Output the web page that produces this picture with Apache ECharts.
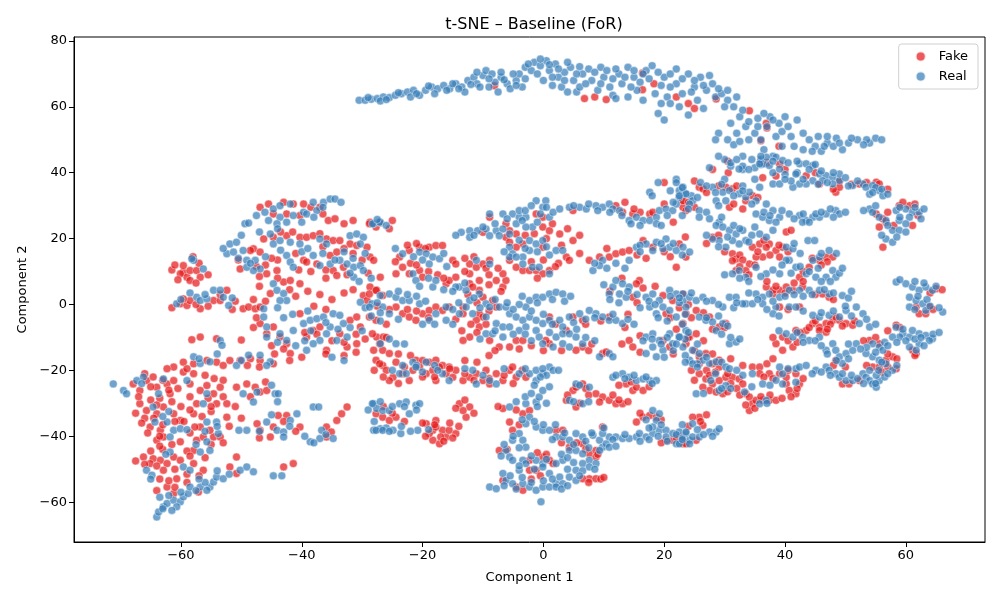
<!DOCTYPE html>
<html>
<head>
<meta charset="utf-8">
<script src="https://cdn.jsdelivr.net/npm/echarts@6/dist/echarts.min.js"></script>
<style>html,body{margin:0;padding:0;background:#fff;}#chart{width:1000px;height:600px;}</style>
</head>
<body>
<div id="chart"></div>
<script>
const tickValuesX = [-60, -40, -20, 0, 20, 40, 60];
const tickValuesY = [-60, -40, -20, 0, 20, 40, 60, 80];
const seriesNames = ['Fake', 'Real'];

const realArc = [
[-30.5,62],[-29.5,62],[-28.5,62.3],[-27.5,62.5],[-26.5,63],[-25.5,62.8],[-24.5,63.5],[-23.5,64],[-22.5,64.5],[-21.5,65],[-20.5,63.5],[-19.5,65],[-18.5,66],[-17.5,65.5],[-16.5,66.5],[-15.5,65.5],[-14.5,67],[-13.5,66],[-12.5,68],[-11.5,69],[-11,67],[-10,69.5],[-9.5,71],[-8.5,70],[-8,67.5],[-7,69],[-6,67],[-5.5,65.5],[-4.5,68],[-4,70],[-3,72],[-2,71],[-1.5,73.5],[-0.5,72.5],[0.5,74],[1,71],[2,73],[2.5,69],[3,66],[3.5,70.5],[4.5,72],[5,68],[5.5,64.5],[6.5,70],[7.5,71.5],[8,68],[9,65],[9.5,72],[10,69],[11,66],[11.5,63.5],[12.5,70],[13,67],[14,72],[15,69],[15.5,65],[16,67.5],[17,71],[18,72.5],[18.5,64],[19,58],[19.5,61],[20,69],[20.5,63],[21,70],[22,67],[22.5,60],[23,64],[24,70],[25,66],[25.5,62],[26,69],[27,65],[28,67],[28.5,63],[29.5,64],[30.5,62],[31,55],[31.5,60],[32,52],[32.5,57],[33.5,54],[34,50],[35,52],[35.5,56.5],[36,50],[37,54],[37.5,57],[38.5,51],[39,55],[39.5,48],[40,57],[36.5,47],[38,45],[41,51],[42,56],[43,47],[44,50],[45,48],[45.5,51],[46,46.5],[47,49],[48,48],[48.5,50.5],[49.5,47],[50.5,49],[52,50],[54,49],[55,50.5],[53.5,50],[31,42],[33,41],[35,38],[30,44],
[-27,61.8],[-22,63],[-18,64],[-13,64.5],[-9,66],[-7.5,64.5],[-3.5,66],[0,68],[1.5,66.5],[4,64.5],[6,66],[12,62.5],[14,63],[16.5,62],[20,56],[21,61],[24,57.5],[26.5,59.5],[29,52],[30.5,50],[31.5,48.5],[33,45],[34.5,44],[36,42.5],
[19,37],[22,38],[26,37],[30,38],[33,36],[27.5,41.5],[31,43],[33,42],[35,41.5],[36.5,42.7],[38,40],[40,39.5],[42,40]
];
const realArcExtra = [
[-29,62.8],[-26,62.2],[-24,64.3],[-21,64],[-19,66.3],[-16,65],[-15,67],[-14,65.5],[-12,66.8],[-11,70.5],[-10.5,66],[-9,68.5],[-7,70.5],[-6.5,68.2],[-5,70],[-4.5,66.5],[-3,68.5],[-2.5,73],[-1,70],[-0.5,74.5],[1,72.8],[1.5,69],[2.5,71.5],[3.5,68],[4,73.5],[5.5,70],[6,72.2],[7,67],[8.5,70.5],[9.5,67],[10.5,71],[11.5,68.5],[12,71.5],[13.5,69],[14.5,66],[15,71],[16.5,70],[17.5,68.5],[19,70.5],[19.5,66.5],[21,66],[22,71.5],[23,68.5],[24.5,64.5],[25,68],[26.5,66.5],[27.5,69.5],[29,65.5],[30,60],[30.5,65],[32,63],[33,59],[34,55.5],[35.5,54],[36.5,58],[38,56],[39.5,52.5],[40.5,54],[41.5,48],[43,52],[44.5,46.5],[46.5,48],[47,51],[49,49],[51,50.5],[53,48.5],[56,50],[32,44],[34,41],[36,44],[29,45],[28.5,50],[32.5,49.5]
];
const fakeArc = [
[-8.1,66.4],[6.8,62.5],[8.5,63],[10.4,62.2],[16.4,70.3],[16.4,65.2],[18.3,67],[22,63],[24,61],[25,59.5],[28.6,62.4],[34.1,58.8],[36.9,55],[37,53.6],[36,49.7],[39,48],[28,41],[30.6,40],[36.3,38.5],[38.5,39],[45.7,36.6],[49,37.4],[30.5,43.5],[20,37],[25,37.5]
];

const realLeftLow = [
[-71.2,-24.1],[-69.5,-26.1],[-69,-27.1],[-67.3,-23.1],[-66.2,-22],[-62.9,-22.6],[-63.7,-27.1],[-64.6,-31.1],[-64.3,-35.7],[-62.3,-35.7],[-61.2,-38.2],[-61.8,-40.2],[-60.1,-37.7],[-61.8,-44.8],[-65.7,-50.3],[-64.8,-51.8],[-64,-64.5],[-63.7,-63],[-62.9,-61.4],[-62.3,-60.4],[-61.2,-59.4],[-60.1,-59.9],[-59.6,-58.4],[-58.8,-57.4],[-60.7,-61.4],[-58.5,-55.4],[-59.6,-49.3],[-58.5,-50.3],[-56.8,-55.4],[-55.2,-55.4],[-54.6,-53.9],[-55.7,-56.4],[-54.1,-52.4],[-53,-52.9],[-59,-23.1],[-56.3,-30.1],[-55.7,-27.1],[-55.7,-35.7],[-54.1,-35.7],[-53.8,-39.2],[-55.7,-41.7],[-55.2,-44.3],[-56.8,-44.8],[-49.7,-27.1],[-47.4,-26.6],[-48,-29.6],[-44.4,-27.1],[-43.9,-27.1],[-49.1,-38.2],[-45.8,-35.7],[-44.1,-38.2],[-43,-38.7],[-41.9,-35.2],[-40.8,-33.2],[-43,-40.2],[-38.6,-41.7],[-37,-40.7],[-36.7,-38.2],[-34.8,-40.7],[-38.1,-31.1],[-37.2,-31.1],[-28.1,-30.1],[-27.6,-31.6],[-28.1,-38.2],[-27,-37.7],[-50.4,-38.2],[-44.7,-52],[-43.3,-52],[-50.2,-50.3],[-49.1,-49.3],[-48,-50.8],[-63,-62],[-61.5,-62.5]
];
const realLeftLowExtra = [
[-66.5,-24],[-62,-32.5],[-63,-34],[-59,-38],[-62.5,-45.5],[-65,-53],[-63.5,-58.5],[-62,-58],[-60,-57],[-57.5,-56.5],[-56,-54],[-57,-53],[-52,-51.5],[-54,-50.5],[-57.5,-42.5],[-54,-37],[-56,-38.5],[-47,-38.5],[-45,-33.5],[-42,-37],[-39.5,-40],[-36,-39.5],[-38,-42],[-45,-24.5],[-44,-29.5],[-29,-32],[-28,-35.5],[-26,-37.5]
];
const fakeLeftLow = [
[-67.9,-24.1],[-66.8,-26.1],[-65.7,-23.1],[-64.6,-22],[-64,-25.1],[-62.3,-24.1],[-61.2,-23.1],[-61.8,-27.1],[-66.8,-30.1],[-65.7,-32.2],[-64,-33.2],[-62.9,-31.1],[-61.2,-33.2],[-65.1,-37.2],[-63.4,-38.2],[-62.9,-40.2],[-64,-41.2],[-60.1,-35.2],[-60.1,-41.7],[-66.2,-46.3],[-64.6,-46.8],[-63.4,-47.3],[-62.3,-48.3],[-65.1,-48.3],[-62.9,-50.3],[-61.2,-46.3],[-62.3,-55.4],[-60.7,-52.9],[-61.2,-57.4],[-60.1,-47.3],[-57.9,-48.3],[-56.3,-50.3],[-57.1,-56.9],[-59.6,-20.5],[-57.9,-21],[-56.8,-26.1],[-55.7,-24.6],[-54.6,-27.1],[-54.1,-30.1],[-52.4,-30.1],[-57.4,-30.1],[-58.5,-24.1],[-53.5,-25.1],[-57.9,-33.2],[-56.8,-37.2],[-57.4,-41.2],[-57.9,-44.3],[-56.3,-40.2],[-54.6,-40.2],[-53.5,-40.2],[-52.4,-34.2],[-57.7,-37.2],[-55.2,-38.2],[-50.8,-25.1],[-49.1,-24.1],[-47.7,-25.1],[-46.9,-26.6],[-45.8,-26.1],[-50.8,-46.3],[-47.4,-36.2],[-44.7,-37.2],[-42.5,-33.7],[-43.9,-33.7],[-40.3,-37.2],[-45.2,-40.2],[-46.9,-38.2],[-35.9,-37.2],[-35.1,-38.7],[-34.2,-35.2],[-33.4,-33.2],[-32.5,-31.1],[-35.9,-40.2],[-43,-49.3],[-41.4,-48.3],[-51.9,-49.3],[-50.8,-51.3],[-63.5,-28.5],[-66,-34.5],[-63,-44],[-59,-44.5],[-55,-32.5],[-58.5,-28]
];
const fakeLeftLowExtra = [
[-66,-21],[-65,-25],[-63,-23],[-62,-26],[-60.5,-25.5],[-67,-28],[-65,-29],[-64,-30.5],[-61.5,-29.5],[-60,-31],[-67.5,-33],[-64.5,-34.5],[-63,-36.5],[-61,-35.5],[-66.5,-36],[-65.5,-39],[-63.5,-40],[-61.5,-42.5],[-63.5,-43],[-65,-44.5],[-67.5,-47.5],[-66,-48.5],[-64,-49],[-61,-50],[-63.5,-53],[-62,-53.5],[-64,-56.5],[-61,-55.5],[-59,-54],[-57,-52],[-59,-51.5],[-56,-21.5],[-54.5,-22.5],[-53,-23],[-55.5,-28.5],[-53,-28],[-55,-31],[-58.5,-32],[-56.5,-34],[-59.5,-35.5],[-58.5,-39],[-55,-42.5],[-53,-42],[-58.5,-46],[-56,-46.5],[-51,-31],[-52,-37],[-50,-34.5],[-47,-40.5],[-43,-35.5],[-41,-38.5],[-46,-23.5],[-48.5,-28]
];

const realLeftHigh = [
[-46.1,28],[-44.7,29],[-43.6,30],[-41.9,30.5],[-39.7,28],[-38.1,31],[-37.5,28.5],[-36.4,31],[-35.3,32],[-34.5,32],[-43.6,26.5],[-44.1,24.5],[-41.4,27],[-39.2,27.5],[-49.4,24.5],[-48.8,24.7],[-45.2,21.4],[-44.7,18.4],[-43.6,19.4],[-41.9,18.9],[-40.3,18.4],[-37,19.9],[-35.9,18.4],[-32,20.9],[-30.9,21.4],[-29.8,20.4],[-30.3,18.4],[-51.9,18.4],[-50.8,18.9],[-52.4,15.4],[-51.3,15.9],[-49.7,16.4],[-49.1,13.4],[-47.7,13.4],[-46.9,10.8],[-48,10.3],[-49.1,11.3],[-42.5,14.9],[-41.9,12.9],[-41.4,11.3],[-38.1,14.9],[-37,11.8],[-35.3,12.3],[-33.7,13.4],[-32.5,12.3],[-31.4,11.3],[-30.3,11.8],[-29.8,10.3],[-31.4,8.3],[-28.1,24.5],[-27,25],[-57.9,13.4],[-56.3,10.8],[-58.2,13.9],[-60.7,0.2],[-57.4,2.2],[-56.8,1.2],[-55.7,1.7],[-54.6,4.3],[-53.5,4.3],[-53,2.2],[-52.1,-0.3],[-46.3,-1.3],[-44.7,6.3],[-44.1,4.3],[-43,3.3],[-42.5,1.2],[-43.6,1.2],[-46.3,-3.8],[-45.8,-6.8],[-43.6,-8.9],[-41.4,-7.9],[-42.5,-10.9],[-45.8,-9.9],[-39.7,-5.8],[-38.6,-4.8],[-37.5,-4.3],[-36.4,-3.8],[-34.8,-2.8],[-33.7,-3.3],[-33.1,-5.8],[-35.3,-6.8],[-35.9,-8.9],[-37,-10.9],[-38.1,-11.9],[-39.2,-13.9],[-34.2,-10.9],[-32.5,-9.9],[-30.3,0.7],[-28.4,0.2],[-27,2.7],[-27,-11.9],[-53.5,-10.9],[-53.2,-12.4],[-57.9,-15.9],[-56.8,-17.9],[-55.2,-17.4],[-50.8,-18.5],[-48.8,-15.4],[-46.9,-15.4],[-45.2,-17.4],[-45.8,-18.5]
];
const realLeftHighExtra = [
[-47.5,27],[-45.5,25.5],[-42.5,25],[-40,25],[-38,26.5],[-36.5,29.5],[-33.5,31],[-44,23],[-47,22],[-50,21],[-53,17],[-50.5,14],[-48.5,12.5],[-46,14.5],[-43.5,16.5],[-40,16],[-39,17],[-36.5,15.5],[-34.5,13.5],[-33,16],[-31.5,14],[-29.5,15.5],[-32,9.5],[-30.5,7],[-28.5,8],[-60,1.5],[-58.5,3.5],[-56,3],[-51.5,2],[-44,-1],[-41.5,-3],[-39,-2],[-36,-5.5],[-34,-7.5],[-32,-7],[-30,-8],[-28.5,-3.5],[-29.5,-1],[-27,-5],[-38.5,-8],[-41,-12.5],[-39.5,-11],[-44,-11.5],[-43,-4],[-50,-17],[-57,-16.5],[-54,-15],[-35,-16],[-33,-17]
];
const fakeLeftHigh = [
[-41.4,30.5],[-39.7,30.5],[-37,29.5],[-35.6,25.5],[-42.5,27.5],[-40.3,27],[-46.9,29.5],[-44.7,27.5],[-46.3,19.9],[-44.7,20.4],[-42.5,20.9],[-40.3,20.4],[-39.2,20.4],[-38.1,20.9],[-35.9,19.9],[-34.8,19.4],[-33.7,19.4],[-32,18.4],[-30.9,17.9],[-48,16.9],[-50.2,10.8],[-48.5,16.4],[-46.9,15.9],[-45.8,9.3],[-44.1,10.3],[-39.7,13.4],[-39.2,12.9],[-37.5,12.3],[-35.3,14.9],[-34.2,15.9],[-34.8,10.3],[-34.2,8.8],[-33.1,11.3],[-29.2,17.4],[-28.7,14.4],[-28.1,13.4],[-27,8.3],[-28.7,25],[-59.6,9.8],[-59,8.3],[-58.5,10.3],[-57.4,10.3],[-56.8,8.3],[-58.5,7.3],[-60.1,9.3],[-59.6,11.8],[-60.1,0.2],[-59,-0.3],[-58.5,1.2],[-56.8,-1.3],[-54.6,1.2],[-53.5,1.2],[-52.4,4.3],[-59.6,1.7],[-49.7,-1.3],[-48.8,-0.8],[-47.7,-1.3],[-46.9,-0.8],[-45.2,3.3],[-43,6.8],[-41.9,7.3],[-40.3,6.3],[-46.9,-5.8],[-45.8,-8.9],[-44.7,-6.8],[-43.6,-9.9],[-42.5,-11.9],[-41.9,-14.9],[-40.3,-2.8],[-38.1,-7.9],[-37,-6.8],[-33.7,-8.9],[-32,-4.8],[-30.9,-3.8],[-30.3,-6.8],[-39.2,-9.9],[-35.9,-13.9],[-32.5,-12.9],[-30.9,-11.9],[-29.8,2.7],[-28.7,5.3],[-27.6,4.3],[-29.2,1.2],[-27.6,-9.9],[-26.5,-9.9],[-28.1,-13.9],[-58.2,-10.7],[-56.8,-9.9],[-54.1,-10.4],[-61.2,-19],[-59.6,-17.5],[-57.9,-18],[-55.7,-17],[-54.1,-17.5],[-51.9,-17],[-50.2,-17],[-48.5,-16.5],[-46.9,-17],[-44.7,-18],[-62.3,-19.5],[-36,-15],[-33,-15.5],[-31,-14.5],[-38,-0.5],[-36,-1.5],[-45,-12.5],[-50,-10.8],[-61.5,10.5],[-58,14.5],[-47,8.5],[-44,13.5],[-41,15.5]
];
const fakeLeftHighExtra = [
[-45.5,30.5],[-43,31],[-38.5,29.5],[-36.5,27.5],[-34.5,26],[-33,24.5],[-31.5,25.5],[-43.5,22],[-41.5,22],[-37,21.5],[-36.5,17.5],[-33,17],[-31.5,15.5],[-50.5,13.5],[-47.5,11.5],[-46,12],[-45,14],[-40.5,10.5],[-38.5,10],[-36,10.5],[-36,8],[-32.5,9],[-30,13.5],[-29,9.5],[-61,12],[-60.5,7.5],[-57.5,6.5],[-57,12.5],[-55.5,9],[-61.5,-1],[-57.5,0],[-55.5,-0.5],[-53.5,3],[-51,1],[-51.5,-1.5],[-48,1.5],[-46,1],[-47,5.5],[-44,8],[-42,4.5],[-41,2.5],[-39,4],[-37,3],[-35,1.5],[-33,3.5],[-31.5,4.5],[-39.5,-8.5],[-37.5,-9],[-35,-11],[-33,-11.5],[-31,-9],[-29.5,-10.5],[-43,-13.5],[-44.5,-15],[-47.5,-4],[-48,-7],[-59,-19.5],[-53,-18.5],[-49,-18.5],[-47,-19],[-42,-17],[-40,-16]
];

const realMid = [
[-28.3,24.5],[-27.1,25],[-13.6,21.9],[-12.2,22.4],[-10.9,22.4],[-9.5,22.9],[-7.8,22.4],[-6.7,22.9],[-5.6,21.4],[-12.2,20.4],[-8.9,20.9],[-7.3,20.9],[-8.9,27.5],[-6.7,27.5],[-5.1,27.5],[-4,26.5],[-2.9,26.5],[-1.8,23.5],[-2.3,19.4],[-1.2,18.4],[-0.1,19.4],[1,26.5],[1.6,28],[-0.1,29.5],[0.4,31.5],[-1.2,31.5],[-4,28.5],[-4.5,24.5],[-2.9,23.5],[-5.6,17.4],[-5.1,15.4],[-3.4,14.4],[-2.3,16.4],[2.1,16.4],[3.2,16.4],[2.7,29],[4.3,29.5],[6,29.5],[7.1,29],[8.7,30],[9.8,29.5],[10.9,30.5],[11.5,29],[12.6,28.5],[14.2,25.5],[15.4,26.5],[16.5,25.5],[17.6,25.5],[18.7,26.5],[19.2,28.5],[20.3,29],[21.4,28.5],[22.5,32.5],[23.6,33.5],[23.1,35.6],[22,30.5],[18.7,24.5],[17.6,34.1],[9.8,13.4],[9.3,11.8],[8.2,10.3],[14.2,13.4],[15.4,17.4],[17,18.4],[18.7,18.9],[20.3,19.9],[20.9,17.4],[22,16.4],[23.1,17.4],[24.2,15.9],[19.8,16.9],[18.1,16.4],[10.9,3.2],[11.5,5.3],[12,7.3],[13.1,6.3],[14.2,5.3],[12.6,3.2],[13.7,2.2],[17,2.2],[18.1,3.2],[19.2,1.2],[19.8,-0.8],[20.9,4.3],[22,3.2],[23.1,1.2],[23.6,-0.8],[18.7,-2.8],[20.9,-1.8],[22,-3.8],[17.6,-0.8],[17,-9.9],[18.1,-8.9],[19.2,-10.9],[18.1,-12.9],[19.8,-13.9],[21.4,-11.9],[22.5,-9.9],[20.9,-8.9],[23.1,-12.9],[17,-14.9],[18.7,-15.9],[-2.3,1.2],[-1.2,2.2],[-0.1,2.2],[1,3.2],[2.1,3.7],[3.2,3.2],[-2.9,-0.8],[-5.6,-2.8],[-4.5,-3.8],[-3.4,-4.8],[-2.3,-3.8],[-1.2,-4.8],[-0.1,-5.8],[1,-4.8],[2.7,-4.8],[4.3,-3.8],[6,-2.8],[7.6,-1.8],[8.7,-2.8],[9.8,-3.8],[10.9,-4.8],[12,-4.8],[13.1,-5.8],[3.2,-6.8],[-13.9,5.3],[-12.8,4.3],[-10.6,3.2],[-9.5,0.2],[-7.3,-0.8],[-6.2,-0.8],[-8.9,-0.8],[-12.2,1.2],[-12.8,-0.8],[-13.9,-2.8],[-23.3,15.4],[-20.5,15.9],[-19.4,15.4],[-18.3,14.4],[-17.2,13.9],[-18.9,12.3],[-21.6,9.3],[-21.1,7.3],[-18.3,5.3],[-17.8,7.3],[-14.5,5.3],[-11.1,13.4],[-8.9,12.3],[-5.6,14.4],[-4.5,14.4],[-3.4,12.3],[-1.8,11.3],[-0.7,11.3],[1,9.3],[-25.5,3.2],[-24.4,2.2],[-23.3,1.2],[-22.2,1.2],[-20.5,0.2],[-26.6,-0.8],[-25.5,-2.8],[-18.9,-4.8],[-17.8,-2.8],[-16.1,-0.8],[-16.1,-4.8],[-28.8,-0.8],[-24.4,-11.9],[-11.7,-2.8],[-9.5,-3.8],[-7.8,-5.8],[-6.7,-6.8],[-5.6,-6.8],[-4,-7.9],[-2.9,-6.8],[-1.2,-7.9],[-0.7,-9.9],[-9.5,-8.9],[-8.4,-8.9],[-6.7,-9.9],[2.1,-9.9],[3.2,-8.9],[4.3,-8.9],[5.4,-9.9],[3.2,-11.9],[1.6,-12.9],[4.3,-12.9],[6.5,-11.9],[-0.1,-11.9],[9.3,-15.9],[10.9,-14.9],[11.5,-15.9],[-23.3,-18.5],[-21.6,-17.5],[-19.4,-17.5]
];
const realMidExtra = [
[-27.5,25.8],[-26,24],[-14.5,21],[-11.5,21],[-10,23.5],[-8,24.5],[-6,26],[-3,28.5],[-2,30],[-0.5,27.5],[0.5,29.5],[-3.5,25.5],[-1,25],[-4,19.5],[-3,17],[-1,16],[0.5,17.5],[1,15],[-6.5,16],[5,30],[7.5,30.5],[9,28.5],[11,28],[13,27],[14.5,24.5],[16,24],[19.5,24],[20.5,27],[21.5,31],[23,27],[24.5,33],[21,34.5],[22,37],[18,33],[8.5,12.5],[10.5,11],[12,12.5],[13.5,11],[16,18],[16,16],[19.5,18.5],[21.5,18.5],[23,15],[10,6],[11,1.5],[12.5,0.5],[14,4],[15.5,3],[16,-1],[17.5,1],[18.5,0],[21,2.5],[22.5,0.5],[19,-4],[20.5,-5],[23.5,-3],[16.5,-11],[18,-10.5],[19.5,-12],[20.5,-10],[21.5,-14],[20,-16],[23.5,-10.5],[-4,0],[-3.5,2.5],[-1,0.5],[1.5,1.5],[3.5,1],[4.5,2.5],[-2,-2],[0,-3],[1.5,-6],[5,-5.5],[7,-4.5],[8.5,-4],[11.5,-3],[14,-4.5],[15,-6],[-15,4],[-13,6.5],[-11.5,2],[-10.5,-1],[-15,-1.5],[-14,0.5],[-8,1.5],[-6,0.5],[-5,-1.5],[-24.5,17],[-21.5,14.5],[-20,13.5],[-16.5,15.5],[-16,11.5],[-20.5,5.5],[-19,8],[-16.5,4.5],[-24,4],[-22.5,3],[-21,2.5],[-19.5,1],[-27.5,0.5],[-27,-2.5],[-24,-4.5],[-20,-6],[-18,-6],[-15,-6],[-25.5,-10.5],[-23,-12],[-10.5,-10.5],[-8,-8],[-5,-9],[-3,-9],[-2,-11],[1,-8.5],[5.5,-7.5],[7,-10],[8.5,-11],[-21,-18.5],[-18,-18.5]
];
const fakeMid = [
[-28.8,24.5],[-27.7,23.5],[-10,21.9],[-6.2,20.4],[-5.6,18.9],[-8.9,26.5],[-6.2,24.5],[-5.6,22.4],[-4.5,21.4],[-3.4,18.4],[-4.5,17.4],[-1.2,27.5],[-0.1,23.5],[1,22.4],[-0.1,17.4],[3.8,14.4],[4.3,13.4],[2.7,21.4],[4.9,19.4],[-0.1,26.5],[12,30],[13.1,28],[4.9,28.5],[14.8,27.5],[17.6,27.5],[18.1,28],[23.1,29.5],[23.1,31.5],[7.6,13.4],[9.3,14.4],[10.9,14.4],[12,15.4],[13.1,15.9],[14.2,16.4],[16.5,19.4],[18.1,17.4],[22.5,18.4],[23.6,14.4],[22,11.3],[14.8,2.2],[15.9,7.3],[15.4,6.3],[19.8,2.7],[21.4,1.2],[20.3,-2.8],[23.1,3.2],[19.8,-10.9],[20.9,-12.9],[23.1,-5.8],[24.2,-9.9],[1,-3.8],[4.9,-3.8],[6.5,-4.8],[3.8,-7.9],[10.9,-3.8],[-6.7,5.3],[-7.8,7.3],[-6.2,7.3],[-12.2,6.3],[-10.6,4.3],[-10,2.2],[-8.4,1.2],[-7.8,-0.8],[-10.6,-2.8],[-10,-3.8],[-13.3,-0.8],[-13.3,-2.8],[-23.8,14.4],[-22.2,16.4],[-20.5,17.4],[-18.9,17.4],[-17.8,17.9],[-16.7,17.9],[-23.3,11.3],[-24.4,9.3],[-22.2,9.3],[-20.5,10.3],[-20,8.3],[-16.1,6.3],[-15.6,7.3],[-15,13.4],[-14.5,12.3],[-12.2,12.3],[-11.1,11.3],[-10,12.3],[-8.9,13.4],[-14.5,8.3],[-12.2,9.3],[-10.6,7.3],[-11.7,5.3],[-5.6,13.4],[-4.5,11.3],[-3.4,10.3],[-2.3,10.3],[-1.2,10.3],[-0.1,9.3],[1,10.3],[-6.7,9.3],[-28.8,3.2],[-27.7,4.3],[-26.6,2.7],[-24.4,-0.8],[-23.3,-2.8],[-22.2,-3.8],[-21.1,-4.8],[-20,-2.8],[-18.9,-1.8],[-17.8,-0.8],[-16.7,-1.8],[-15.6,-0.8],[-28.8,-3.8],[-27.7,-4.8],[-28.3,-8.9],[-27.1,-11.9],[-26.6,-13.9],[-25.5,-14.9],[-11.1,-4.8],[-10.6,-6.8],[-8.9,-10.9],[-7.3,-12.9],[-5.6,-12.9],[-4.5,-10.9],[-3.4,-10.9],[-12.2,-9.9],[-13.3,-10.9],[1,-11.9],[0.4,-10.9],[6.5,-12.9],[5.4,-13.9],[9.8,-14.9],[10.4,-14.4],[14.2,-10.9],[14.8,-12.9],[-27.7,-16.9],[-26.6,-18.5],[-24.4,-17.5],[-21.1,-16.9],[-18.9,-17.5],[-17.8,-16.9],[-16.7,-18.5],[-15.6,-19]
];
const fakeMidExtra = [
[-27,24.8],[-25.5,23],[-25,25.5],[-22.5,18],[-21,18.5],[-19.5,17],[-24.5,13],[-22,12.5],[-21,12],[-19,10],[-17.5,9],[-13,14],[-11.5,14.5],[-9.5,11],[-7.5,11],[-13,10],[-16.5,8],[-9,9],[-7,4],[-9,6],[-12.5,3],[-11,0.5],[-9,-2],[-14.5,-4.5],[-12,-6],[-9.5,-6],[-2,13],[0,13.5],[2.5,12.5],[-1,8],[2,11.5],[-3,21],[-1.5,21.5],[0.5,20],[3,18],[6,15.5],[4,23],[1.5,24.5],[6,21],[10.5,17],[15.5,15],[17,14],[20,16],[21,14.5],[23.5,20.5],[16,28],[20,30.5],[21.5,25],[13.5,31],[15,29],[11,4],[13,8],[16.5,5],[15.5,0.5],[18.5,5.5],[21,-4],[22.5,-1],[24,0],[2,-6],[7,-6],[9.5,-5],[13.5,-7],[14,-3],[-25.5,-1.5],[-22.5,-1.5],[-21,-2],[-19,-4],[-27.5,-0.5],[-26,-6],[-26,-10],[-24,-15],[-22,-15.5],[-20,-17],[-13,-17],[-11,-17.5],[-9,-15.5],[-8,-14],[-4,-13.5],[-2,-12.5],[-13.5,-8],[-11,-8.5],[0,-14],[3,-14],[7.5,-14],[8,-12],[13,-12],[16,-9.5],[16,-14.5],[21.5,-15],[22,-7.5]
];

const realMidLow = [
[-23.8,-21],[-22.7,-21],[-21.1,-19],[-16.7,-21],[-15.6,-23.1],[-11.7,-20],[-11.1,-24.1],[-7.8,-24.1],[-8.9,-23.1],[-4,-21],[-2.3,-21],[-1.2,-20],[-0.1,-21],[1,-19],[1.6,-20],[-1.2,-23.1],[-0.1,-19.5],[-28.3,-30.1],[-26.6,-32.2],[-25.5,-32.2],[-23.8,-30.1],[-22.7,-29.6],[-21.1,-30.6],[-20.5,-30.1],[-22.2,-33.2],[-27.7,-38.2],[-26.6,-38.2],[-24.9,-38.2],[-23.6,-39.2],[-20.8,-38.2],[-5.6,-31.1],[-2.9,-30.1],[-1.2,-29.6],[-0.7,-28.1],[-0.1,-26.1],[-2.3,-34.2],[-2.9,-36.2],[-1.2,-37.2],[-0.1,-38.2],[1,-38.2],[-4,-39.2],[-5.1,-41.2],[-3.4,-41.2],[-2.9,-43.3],[-6.2,-44.3],[-5.6,-46.3],[-5.1,-47.3],[-3.4,-47.3],[-2.9,-48.3],[-1.2,-47.3],[-0.1,-48.3],[-4,-50.3],[-6.7,-51.3],[-6.2,-53.4],[-5.1,-54.4],[-3.4,-54.4],[-2.3,-55.4],[-1.2,-56.4],[-0.1,-55.4],[1,-55.4],[2.1,-54.4],[2.7,-52.4],[1,-51.3],[-0.1,-49.3],[-8.9,-55.4],[-7.8,-55.9],[-0.4,-59.9],[2.1,-40.2],[3.2,-40.2],[4.3,-41.2],[5.4,-39.2],[6.5,-40.2],[4.3,-44.3],[5.4,-44.3],[6.5,-45.3],[7.6,-47.3],[8.7,-48.3],[5.4,-50.3],[6.5,-48.3],[7.6,-49.3],[3.2,-47.3],[2.1,-48.3],[4.3,-52.4],[5.4,-53.4],[3.2,-54.4],[2.1,-55.4],[4.3,-29.1],[6.5,-30.1],[7.6,-25.1],[5.4,-24.1],[8.2,-39.7],[9.3,-41.2],[9.8,-43.3],[10.4,-42.3],[10.9,-40.2],[12,-40.2],[9.8,-39.2],[9.3,-44.3],[10.9,-43.3],[11.5,-22.1],[13.1,-21],[14.2,-22.1],[15.4,-23.1],[16.5,-22.6],[17.6,-23.1],[18.7,-23.1],[13.1,-40.7],[14.2,-40.7],[15.4,-40.2],[15.9,-39.2],[17,-40.2],[18.1,-39.2],[19.2,-38.2],[18.1,-32.2],[19.2,-33.2],[18.7,-35.2],[18.1,-37.2],[20.3,-38.2],[21.4,-39.2],[22.5,-38.7],[23.6,-39.2],[24.2,-41.2],[22,-42.3],[20.3,-40.2]
];
const realMidLowExtra = [
[-25,-20],[-20,-20.5],[-17.5,-20],[-13,-19.5],[-10,-21.5],[-6.5,-19.5],[-3,-19.5],[0.5,-21.5],[2.5,-20],[-1.5,-24.5],[-0.5,-22],[-27,-29.5],[-25,-31],[-23,-31],[-21,-32],[-23.5,-37],[-25.5,-38.5],[-22,-38.5],[-19,-38],[-4.5,-29.5],[-3,-28],[-2,-27],[-1,-31],[0.5,-30],[1,-25],[-3.5,-35],[-1.5,-35.5],[0,-36.5],[2,-36.5],[-5,-40],[-4,-43.5],[-6.5,-42.5],[-7,-46],[-4,-49],[-2,-46],[0.5,-47],[-1.5,-50],[-5.5,-52],[-3.5,-52.5],[-2,-54],[0,-53.5],[1.5,-53],[-4.5,-56],[-6.5,-55],[3,-56],[4,-55],[1.5,-41],[3.5,-39],[5,-42.5],[7,-41.5],[7.5,-43.5],[3,-45.5],[4,-46.5],[5,-48],[6.5,-50.5],[8.5,-50],[4,-50],[6,-52],[8,-39],[10,-37.5],[11.5,-41],[12,-43],[13.5,-39.5],[16,-41.5],[17.5,-41],[19,-40],[20.5,-41.5],[22,-39.5],[23,-40.5],[17,-35],[17.5,-37.5],[19.5,-36.5],[12,-21.5],[13.5,-22.5],[15,-21.5],[17,-22],[18,-24],[6,-24.5],[5,-29.5],[7.5,-29.5]
];
const fakeMidLow = [
[-27.1,-18],[-26,-20],[-24.9,-22.1],[-23.3,-21],[-21.6,-20],[-20.5,-19],[-19.4,-21],[-18.3,-20],[-17.2,-19],[-16.1,-21],[-14.5,-20],[-13.3,-23.1],[-12.2,-22.1],[-11.1,-21],[-10,-23.1],[-8.9,-24.1],[-7.8,-21],[-6.7,-23.1],[-5.6,-20],[-4.5,-22.1],[-25.5,-23.1],[-22.2,-23.1],[-17.8,-23.1],[-15,-22.1],[-2.9,-22.1],[-5.1,-19],[-27.7,-33.2],[-26.6,-34.2],[-25.5,-35.2],[-24.4,-34.2],[-19.4,-36.2],[-18.3,-38.2],[-17.8,-35.2],[-16.7,-38.2],[-16.1,-40.2],[-15.6,-38.2],[-14.5,-39.2],[-18.3,-41.2],[-17.2,-42.3],[-18.9,-39.2],[-13.9,-30.1],[-12.2,-31.1],[-12.8,-34.2],[-13.3,-32.2],[-17.8,-37.2],[-17,-40.2],[-6.7,-31.6],[-5.6,-35.7],[-5.1,-38.2],[-3.4,-33.2],[-2.3,-32.2],[-7.3,-44.3],[-2.3,-47.3],[-1.2,-50.3],[-2.3,-50.3],[-0.1,-46.3],[1,-47.3],[1.6,-48.3],[-6.7,-53.4],[-4.5,-55.4],[-3.4,-56.4],[2.1,-38.2],[3.2,-38.2],[4.3,-43.3],[6.5,-42.3],[7.6,-45.3],[8.7,-46.3],[7.6,-52.9],[8.7,-52.9],[6.5,-52.9],[3.8,-29.1],[4.9,-26.1],[5.4,-25.1],[6.5,-24.1],[5.4,-31.1],[8.7,-27.1],[9.8,-28.1],[10.9,-29.1],[12,-30.1],[13.1,-30.1],[9.3,-29.6],[8.7,-44.3],[9.8,-37.2],[13.7,-24.1],[14.8,-26.1],[15.4,-25.1],[16.5,-26.1],[15.4,-35.7],[16.5,-34.2],[17.6,-33.7],[18.7,-34.2],[20.3,-41.2],[21.4,-41.2],[23.1,-42.3]
];
const fakeMidLowExtra = [
[-26.5,-22],[-24,-24],[-23,-19],[-20,-22],[-18,-22],[-15.5,-19.5],[-13,-21],[-11.5,-23],[-9.5,-20],[-9,-22.5],[-6.5,-21.5],[-5,-24],[-3.5,-20],[-28,-20],[-26.5,-31],[-25,-33],[-23,-35.5],[-20,-36],[-18,-36.5],[-15.5,-36],[-14,-37],[-16.5,-41.5],[-15,-40.5],[-19.5,-40],[-14.5,-31.5],[-11.5,-33],[-13,-29],[-7.5,-31],[-4.5,-32],[-4,-36.5],[-6,-44],[-1,-45],[0.5,-45.5],[-0.5,-52],[-2,-53],[3,-42],[5.5,-42],[7,-44],[9,-45.5],[7.5,-54],[9.5,-53],[10,-52.5],[4,-27.5],[7,-25.5],[7.5,-27.5],[11.5,-27.5],[12.5,-29],[14,-29.5],[6,-30],[12.5,-24.5],[14.5,-23.5],[17.5,-25],[16,-33],[19.5,-35],[22,-40.5],[19.5,-42]
];

const realRight = [
[36.9,44.7],[38.5,44.7],[39.6,43.7],[37.4,42.2],[35.8,42.7],[39.1,41.1],[42.4,42.7],[43.5,42.7],[44.6,42.2],[45.7,39.6],[46.8,39.1],[47.9,38.6],[49,37.6],[49,39.6],[47.9,36.6],[46.2,37.6],[44.6,37.6],[43.5,36.6],[42.4,36.6],[41.3,35.6],[41.8,39.6],[32.4,41.1],[35.8,35.6],[38,36.6],[39.1,36.6],[51.2,36.1],[52.9,36.6],[53.4,35.6],[54.5,36.1],[55.6,34.6],[56.2,33],[54,33.5],[58.4,28.5],[60,29],[61.1,28],[62.2,28],[60.6,26.5],[58.9,25.5],[57.8,22.5],[58.9,22.5],[60,22],[56.7,19.9],[57.8,18.9],[54,29],[54.5,28],[55.6,26.5],[56.7,25.5],[22.5,34.6],[23.6,33.6],[24.7,31.5],[24.2,30.5],[25.8,28.5],[28,35.6],[29.7,34.1],[30.8,34.6],[32.4,33.6],[33.5,32.6],[34.1,34.1],[35.2,31.5],[28.6,31.5],[30.2,31.5],[25.8,26.5],[29.1,25],[28.6,24],[29.7,23.5],[30.8,22.5],[31.9,21.4],[33,22.5],[33.5,19.4],[32.4,18.4],[31.3,19.4],[30.2,17.4],[29.1,19.4],[28,19.9],[35.2,27.5],[36.3,26.5],[37.4,25.5],[38,28.5],[36.9,30.5],[35.8,21.4],[36.9,20.4],[38,22.5],[40.2,17.4],[41.3,16.9],[40.7,13.4],[39.1,26.5],[40.7,27.5],[42.4,27],[43.5,25.5],[44.6,26.5],[45.7,26.5],[46.8,27.5],[48.4,28.5],[49,27.5],[42.9,25],[44,25],[45.1,27.5],[43.8,19.4],[44.9,19.4],[40.2,13.4],[41.8,11.3],[43.5,9.3],[45.1,8.3],[46.8,8.3],[47.9,10.3],[48.4,8.3],[44.6,13.4],[45.7,14.4],[47.3,16.4],[39.1,9.3],[36.9,9.3],[35.2,11.3],[33.5,8.3],[32.4,10.3],[31.3,9.3],[35.2,3.2],[36.3,2.2],[37.4,3.2],[39.1,2.2],[40.7,4.3],[42.4,4.3],[44,4.3],[45.7,4.3],[47.3,3.2],[49.5,2.7],[33.5,0.2],[34.6,0.2],[36.3,0.2],[23.1,3.2],[24.2,2.2],[25.3,1.2],[26.4,2.2],[28,1.2],[29.7,-0.8],[30.8,2.2],[31.9,2.2],[33,0.2],[25.8,-3.8],[26.9,-4.8],[28,-5.3],[29.7,-5.8],[28.6,-7.9],[30.8,-11.9],[31.9,-11.4],[22.5,-9.9],[23.6,-7.9],[24.7,-13.9],[38.5,-0.8],[40.7,-0.8],[41.8,-0.8],[38,-2.8],[44.6,-3.3],[45.7,-3.8],[47.3,-3.3],[49,-3.8],[50.1,-1.8],[51.8,-0.8],[52.9,-2.8],[52.3,-5.8],[54,-6.8],[40.2,-8.9],[41.3,-9.9],[42.9,-9.9],[44,-10.9],[45.7,-9.9],[58.4,6.8],[60,6.3],[61.1,5.3],[62.2,4.3],[63.3,5.3],[64.4,4.3],[60.6,2.2],[61.7,1.2],[62.8,0.2],[60.6,-0.8],[63.3,-1.8],[66.1,-2.3],[58.4,-6.9],[59.5,-8.9],[60.6,-9.9],[61.1,-7.9],[62.2,-8.9],[63.3,-9.4],[64.4,-10.4],[63.9,-10.9],[62.2,-11.9],[60.6,-12.9],[61.7,-13.9],[59,-9.9],[57.8,-9.9],[54.5,-11.9],[55.6,-12.9],[56.2,-13.9],[54.5,-15.9],[55.6,-16.9],[53.4,-14.9],[46.8,-13.9],[47.9,-11.9],[48.4,-13.9],[49,-15.9],[50.1,-14.9],[49.5,-17.9],[51.2,-13.9],[51.8,-11.9],[24.2,-16.9],[26.4,-16.9],[27.5,-17.9],[28.6,-17.4],[25.8,-14.9]
];
const realRightExtra = [
[36,45],[38,43.5],[40.5,43],[42,43.5],[44,41],[45,42.5],[46,40.5],[48,40],[47,37],[45.5,36.5],[43,38],[41,37.5],[40,38],[50,38.5],[50.5,36],[52,37.5],[55,35.5],[56,35],[54.5,34],[57,33.5],[59,29.5],[61.5,29.5],[63,29],[62.5,26],[60,24.5],[59,26.5],[57,24],[56,21],[58.5,20.5],[55,30],[53,28.5],[23,35.5],[22.5,33],[25.5,32.5],[24,29],[27,36],[28.5,34],[29.5,36.5],[31.5,33],[33,34.5],[34.5,30.5],[29,30],[27,28],[27.5,26],[29.5,26.5],[31.5,24],[32.5,23],[34.5,21],[35,23.5],[34,19],[30.5,20.5],[29,17.5],[27,21],[36.5,28],[37.5,27],[38.5,25],[39.5,28.5],[41.5,26],[43,27.5],[46,28],[47.5,29],[50,28],[48,26.5],[41.5,18.5],[42.5,15.5],[39.5,12],[41,9.5],[42.5,11.5],[44,10],[45.5,11],[46,7],[47.5,7],[49,9.5],[49.5,11],[46,15.5],[48.5,15.5],[38,10.5],[36,8.5],[34,7],[32.5,8],[30,9],[34,3.5],[35.5,1.5],[38,1],[40,2.5],[41.5,3],[43,2.5],[44.5,3],[46.5,4.5],[48,3.5],[50.5,2],[51,4],[31.5,-1],[32,0.5],[29,0],[27,1],[24.5,3.5],[22.5,2],[27,-4],[29,-3.5],[30.5,-6.5],[29.5,-9],[31,-10],[32.5,-10.5],[23,-6],[24,-8.5],[22,-12],[25.5,-12],[37,-1.5],[39,-3.5],[43,-2],[46,-2.5],[48,-2],[51,-3.5],[53.5,-4.5],[55,-6],[50,-0.5],[39,-8],[42,-8.5],[43,-11.5],[45,-11],[59,7.5],[61.5,7],[63,6.5],[65,5.5],[62,2.5],[63.5,1.5],[64,-0.5],[65.5,-1],[61.5,-1.5],[59.5,-7.5],[60,-11],[61.5,-10.5],[62.5,-10],[63,-12.5],[64.5,-9],[65.5,-8.5],[58.5,-11.5],[56.5,-11.5],[55,-14.5],[53.5,-13],[57,-12.5],[46,-12.5],[47,-15],[48.5,-17],[50.5,-16.5],[50.5,-12],[52.5,-13.5],[23.5,-15.5],[25.5,-18],[27,-16],[29.5,-17.5]
];
const fakeRight = [
[36,43.2],[39.1,42.6],[43.5,39.1],[48.4,34.1],[49,35.6],[52.3,36.6],[55.1,37.1],[55.6,36.6],[58.9,30],[60.6,30],[61.1,24],[56.7,25],[55.6,23.5],[56.2,17.4],[55.1,27.5],[56.2,26],[23.1,31.5],[23.6,28.5],[25.8,35.6],[26.4,35.1],[30.2,35.6],[31.3,35.1],[30.8,29.5],[33.5,31.5],[34.6,33],[28,20.4],[31.3,15.4],[31.9,13.8],[34.6,17.4],[35.8,18.4],[37.4,18.4],[38.5,16.4],[39.6,17.4],[39.1,14.4],[36.3,14.4],[34.1,12.3],[40.2,22],[45.7,13.4],[46.8,14.4],[47.9,14.4],[44,11.3],[42.4,8.3],[41.3,4.3],[39.1,4.3],[38,3.2],[36.9,5.3],[33.5,10.3],[31.9,10.3],[31.3,13.3],[35.2,14.4],[36.9,17.4],[38,4.3],[40.2,5.3],[42.9,5.3],[46.2,3.2],[47.3,2.2],[39.1,-0.8],[42.4,-0.8],[23.6,-2.8],[25.3,-1.8],[27.5,-3.8],[29.1,-6.8],[30.2,-5.8],[23.6,-11.9],[25.3,-8.9],[25.8,-15.9],[44.6,-5.8],[45.7,-6.9],[46.8,-5.8],[47.9,-4.8],[49,-4.8],[50.1,-5.8],[51.2,-6.3],[45.7,-7.9],[46.8,-8.4],[48.4,-3.8],[38.5,-11.9],[39.6,-9.9],[41.3,-12.9],[39.6,-13.9],[41.8,-7.9],[43.5,-7.9],[65,4.8],[62.2,-2.8],[63.3,-2.8],[63.9,-0.8],[61.7,-0.8],[58.4,-6.3],[61.1,-13.9],[61.7,-14.9],[54,-10.9],[55.6,-11.9],[56.7,-16.9],[57.8,-15.9],[26.9,-14.9],[29.1,-16.9],[34.6,-19],[35.8,-19]
];
const fakeRightExtra = [
[37,43],[40,41],[45,40],[48,35],[51,36.5],[53.5,37],[57,35],[59.5,31],[61.5,30.5],[62,27],[58,24],[57,28],[24,31],[25,29.5],[27,34],[29,36],[32,36],[31.5,30.5],[33,29],[35.5,32.5],[29,21],[27,18.5],[30,16],[32.5,15],[33,13.5],[35.5,16],[36.5,19.5],[39,18],[40.5,16],[37.5,15],[35,12],[41,22.5],[44.5,14],[47,13],[46,12],[43,10],[41.5,6.5],[43,7],[38.5,5.5],[40,3.5],[34,9],[32.5,11.5],[37,7],[45,3],[48,1.5],[40.5,-1.5],[24.5,-4],[26.5,-2.5],[28,-7.5],[30,-7],[24,-10],[26.5,-11],[25,-14],[45,-5],[47.5,-6],[49.5,-6.5],[51.5,-5],[44,-7],[47,-7.5],[40.5,-11],[42,-11.5],[42.5,-8.5],[38,-10],[64,3.5],[66,4.5],[64.5,-1.5],[59,-7],[57,-8],[61.5,-15.5],[55,-10],[53,-11],[57,-15],[58.5,-16.5],[28,-15],[31,-16.5],[33,-18.5],[37,-18],[38,-16.5]
];

const realRightLow = [
[24.7,-18],[30.2,-19],[30.8,-19.5],[29.1,-26.1],[27.7,-23.1],[30.2,-24.6],[25.3,-27.1],[33.3,-26.6],[35.8,-30.1],[36.9,-29.1],[34.6,-21],[36.3,-24.1],[39.6,-21],[39.6,-24.1],[41.8,-23.6],[41.8,-19.5],[42.4,-19],[39.1,-19],[45.1,-20],[46.8,-19],[47.3,-20],[48.4,-21],[49,-22.1],[50.1,-23.1],[51.2,-23.1],[52.9,-21],[53.4,-22.1],[54,-23.1],[54.5,-24.1],[55.1,-25.1],[55.6,-23.1],[55.1,-21.5],[54,-20],[56.7,-18],[57.8,-20],[23.6,-38.7],[24.7,-36.2],[24.7,-40.2],[25.8,-40.2],[24.2,-42.3],[27.5,-38.7],[28.6,-38.7],[29.1,-37.7],[22.5,-42.3],
[25.5,-19],[23.5,-17.5],[32,-20],[33,-21.5],[28.5,-21],[29.5,-25.5],[31,-25.5],[26.5,-27],[34.5,-25],[37.5,-24.5],[38.5,-23],[37,-30],[40.5,-19.5],[43.5,-18.5],[44.5,-21],[46,-20.5],[47.5,-21.5],[49.5,-21],[51,-21.5],[52,-22.5],[53,-24],[55,-24],[56.5,-22],[55.5,-20],[57,-21],[58.5,-18.5],[56,-17.5],[23,-36.5],[25.5,-38],[26.5,-39.5],[23,-41],[28,-40]
];
const fakeRightLow = [
[25.8,-21],[26.9,-22.6],[28,-24.1],[27.5,-26.1],[29.1,-23.1],[30.2,-22.1],[31.3,-22.1],[32.4,-22.6],[26.4,-25.1],[28.6,-26.6],[29.7,-27.1],[29.1,-19],[28,-18],[25.8,-18],[33,-24.1],[33.5,-27.1],[34.1,-28.1],[34.6,-30.1],[35.2,-29.1],[36.3,-29.1],[37.4,-29.1],[38.5,-29.1],[34.1,-32.2],[35.8,-21],[37.4,-21],[39.1,-21],[40.2,-24.1],[40.7,-26.1],[41.8,-27.1],[42.4,-24.1],[41.8,-21],[40.2,-22.1],[49.5,-24.1],[50.6,-24.1],[48.4,-17],[54.5,-19],[55.6,-19],[58.4,-19.5],[52.3,-23.1],[25.8,-34.2],[26.4,-36.7],[23.6,-42.3],[25.3,-41.2],[24.7,-34.2],
[24.5,-20],[25,-23],[27,-20],[27.5,-21.5],[28.5,-20.5],[30.5,-21],[31,-24],[32,-25.5],[32.5,-27.5],[30.5,-26.5],[36,-28],[37.5,-27.5],[39.5,-28.5],[33.5,-30.5],[35,-31.5],[36.5,-22],[38,-22.5],[40.5,-20],[42,-25.5],[41,-28],[43,-22.5],[48,-18.5],[50,-19],[53.5,-18.5],[57,-19],[56,-20.5],[26,-35.5],[27,-33.5],[24,-37],[23,-40]
];

const fakePoints = [].concat(fakeArc, fakeLeftLow, fakeLeftLowExtra, fakeLeftHigh, fakeLeftHighExtra, fakeMid, fakeMidExtra, fakeMidLow, fakeMidLowExtra, fakeRight, fakeRightExtra, fakeRightLow);
const realPoints = [].concat(realArc, realArcExtra, realLeftLow, realLeftLowExtra, realLeftHigh, realLeftHighExtra, realMid, realMidExtra, realMidLow, realMidLowExtra, realRight, realRightExtra, realRightLow);

const FONT = 'DejaVu Sans';
const fmt = v => String(v).replace('-', '\u2212');
const chart = echarts.init(document.getElementById('chart'));
chart.setOption({
  animation: false,
  backgroundColor: '#fff',
  title: {
    text: 't-SNE \u2013 Baseline (FoR)',
    left: 529, top: 12, textAlign: 'center',
    textStyle: { fontFamily: FONT, fontSize: 16, fontWeight: 'normal', color: '#000' }
  },
  legend: {
    data: seriesNames,
    orient: 'vertical', right: 22, top: 44,
    backgroundColor: '#fff', borderColor: '#d0d0d0', borderWidth: 1, borderRadius: 3,
    padding: [6, 10, 6, 16], itemGap: 7, itemWidth: 10, itemHeight: 10,
    textStyle: { fontFamily: FONT, fontSize: 13, color: '#000', padding: [0, 0, 0, 8] }
  },
  grid: { left: 74, right: 15, top: 37, bottom: 58, show: true, borderColor: '#000', borderWidth: 1, backgroundColor: 'transparent' },
  xAxis: {
    type: 'value', min: -77.7, max: 73.1,
    name: 'Component 1', nameLocation: 'middle', nameGap: 29,
    nameTextStyle: { fontFamily: FONT, fontSize: 13, color: '#000' },
    axisLine: { show: true, onZero: false, lineStyle: { color: '#000', width: 1 } },
    axisTick: { show: true, length: 5, customValues: tickValuesX, lineStyle: { color: '#000' } },
    axisLabel: { customValues: tickValuesX, formatter: fmt, fontFamily: FONT, fontSize: 13, color: '#000', margin: 7 },
    splitLine: { show: false }
  },
  yAxis: {
    type: 'value', min: -72.1, max: 81.2,
    name: 'Component 2', nameLocation: 'middle', nameGap: 44, nameRotate: 90,
    nameTextStyle: { fontFamily: FONT, fontSize: 13, color: '#000' },
    axisLine: { show: true, onZero: false, lineStyle: { color: '#000', width: 1 } },
    axisTick: { show: true, length: 5, customValues: tickValuesY, lineStyle: { color: '#000' } },
    axisLabel: { customValues: tickValuesY, formatter: fmt, fontFamily: FONT, fontSize: 13, color: '#000', margin: 7 },
    splitLine: { show: false }
  },
  series: [
    { name: seriesNames[0], type: 'scatter', data: fakePoints, symbol: 'circle', symbolSize: 8,
      itemStyle: { color: '#e41a1c', opacity: 0.72, borderColor: '#fff', borderWidth: 0.6 } },
    { name: seriesNames[1], type: 'scatter', data: realPoints, symbol: 'circle', symbolSize: 8,
      itemStyle: { color: '#377eb8', opacity: 0.72, borderColor: '#fff', borderWidth: 0.6 } }
  ]
});
</script>
</body>
</html>
